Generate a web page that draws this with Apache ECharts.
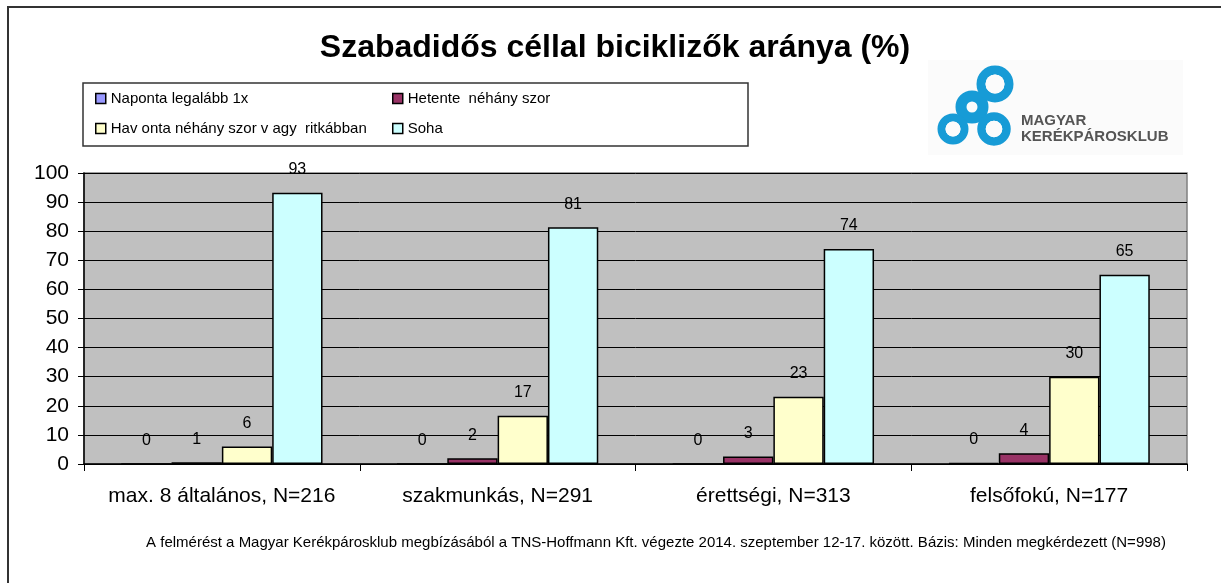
<!DOCTYPE HTML>
<html>
<head>
<meta charset="utf-8">
<title>Szabadidős céllal biciklizők aránya (%)</title>
<script type="text/javascript" src="https://cdn.jsdelivr.net/npm/echarts@6/dist/echarts.min.js"></script>
<style>
html, body { margin: 0; padding: 0; background: #fff; }
#container { width: 1221px; height: 583px; }
</style>
</head>
<body>
<div id="container"></div>
<script type="text/javascript">
// adatok
var categories = ['max. 8 általános, N=216', 'szakmunkás, N=291', 'érettségi, N=313', 'felsőfokú, N=177'];
var seriesNames = ['Naponta legalább 1x', 'Hetente  néhány szor', 'Hav onta néhány szor v agy  ritkábban', 'Soha'];
var naponta = [0, 0, 0, 0.4];
var hetente = [0.6, 2.0, 2.6, 3.7];
var havonta = [6.0, 16.6, 23.1, 30.0];
var soha = [93.2, 81.4, 73.9, 65.0];
var yTicks = [0, 10, 20, 30, 40, 50, 60, 70, 80, 90, 100];
var colors = ['#9999FF', '#993366', '#FFFFCC', '#CCFFFF'];

var font = '"Liberation Sans", Arial, sans-serif';
var blue = '#179BD6';

var myChart = echarts.init(document.getElementById('container'));

function makeSeries(name, data, color) {
	return {
		name: name,
		type: 'bar',
		data: data,
		barGap: '0%',
		barCategoryGap: '27%',
		itemStyle: {color: color, borderColor: '#000', borderWidth: 1.5},
		label: {
			show: true,
			position: 'top',
			distance: 15,
			fontSize: 16,
			fontFamily: font,
			color: '#000',
			formatter: function (p) { return Math.round(p.value); }
		}
	};
}

// a jelmagyarázat négy külön elem, így a két oszlop pontosan igazodik
function makeLegend(name, left, top) {
	return {
		data: [name],
		left: left,
		top: top,
		padding: 0,
		icon: 'rect',
		itemWidth: 10,
		itemHeight: 10,
		selectedMode: false,
		itemStyle: {borderColor: '#000', borderWidth: 1.5},
		textStyle: {fontSize: 15, fontFamily: font, color: '#000'}
	};
}

option = {
	animation: false,
	backgroundColor: '#fff',
	textStyle: {fontFamily: font},
	color: colors,
	grid: {
		left: 84,
		right: 34,
		top: 173,
		bottom: 119,
		show: true,
		backgroundColor: '#C0C0C0',
		borderColor: '#808080',
		borderWidth: 1.5
	},
	legend: [
		makeLegend(seriesNames[0], 95, 91),
		makeLegend(seriesNames[1], 392, 91),
		makeLegend(seriesNames[2], 95, 121),
		makeLegend(seriesNames[3], 392, 121)
	],
	xAxis: {
		type: 'category',
		data: categories,
		axisLine: {lineStyle: {color: '#000', width: 1.5}},
		axisTick: {show: true, length: 7, lineStyle: {color: '#000'}},
		axisLabel: {interval: 0, fontSize: 21, fontFamily: font, color: '#000', margin: 22}
	},
	yAxis: {
		type: 'value',
		min: yTicks[0],
		max: yTicks[yTicks.length - 1],
		interval: 10,
		axisLine: {show: true, lineStyle: {color: '#000', width: 1.5}},
		axisTick: {show: true, length: 6, lineStyle: {color: '#000'}},
		axisLabel: {fontSize: 21, fontFamily: font, color: '#000', margin: 15},
		splitLine: {lineStyle: {color: '#000', width: 1}}
	},
	series: [
		makeSeries(seriesNames[0], naponta, colors[0]),
		makeSeries(seriesNames[1], hetente, colors[1]),
		makeSeries(seriesNames[2], havonta, colors[2]),
		makeSeries(seriesNames[3], soha, colors[3])
	],
	graphic: [
		// külső keret
		{type: 'rect', shape: {x: 8, y: 7, width: 1240, height: 620}, style: {fill: null, stroke: '#333', lineWidth: 2}, silent: true},
		// jelmagyarázat kerete
		{type: 'rect', shape: {x: 83, y: 83, width: 665, height: 63}, style: {fill: null, stroke: '#333', lineWidth: 1.5}, z: -1, silent: true},
		// cím
		{type: 'text', x: 615, y: 48, style: {text: 'Szabadidős céllal biciklizők aránya (%)', fill: '#000', font: 'bold 32px ' + font, textAlign: 'center', textVerticalAlign: 'middle'}},
		// lábjegyzet
		{type: 'text', x: 656, y: 543, style: {text: 'A felmérést a Magyar Kerékpárosklub megbízásából a TNS-Hoffmann Kft. végezte 2014. szeptember 12-17. között. Bázis: Minden megkérdezett (N=998)', fill: '#000', font: '15px ' + font, textAlign: 'center', textVerticalAlign: 'middle'}},
		// logó
		{type: 'rect', shape: {x: 928, y: 60, width: 255, height: 95}, style: {fill: '#FBFBFB'}, z: -2, silent: true},
		{type: 'circle', shape: {cx: 972, cy: 107, r: 11}, style: {fill: null, stroke: blue, lineWidth: 11}},
		{type: 'circle', shape: {cx: 995, cy: 84, r: 14}, style: {fill: null, stroke: blue, lineWidth: 9}},
		{type: 'circle', shape: {cx: 953, cy: 129, r: 11.5}, style: {fill: null, stroke: blue, lineWidth: 8}},
		{type: 'circle', shape: {cx: 994, cy: 129, r: 12.5}, style: {fill: null, stroke: blue, lineWidth: 8.5}},
		{type: 'circle', shape: {cx: 995, cy: 84, r: 9.5}, style: {fill: '#FBFBFB'}},
		{type: 'circle', shape: {cx: 953, cy: 129, r: 7.5}, style: {fill: '#FBFBFB'}},
		{type: 'circle', shape: {cx: 994, cy: 129, r: 8.3}, style: {fill: '#FBFBFB'}},
		{type: 'text', x: 1021, y: 121, style: {text: 'MAGYAR', fill: '#555', font: 'bold 15px ' + font, textVerticalAlign: 'middle'}},
		{type: 'text', x: 1021, y: 137, style: {text: 'KERÉKPÁROSKLUB', fill: '#555', font: 'bold 15px ' + font, textVerticalAlign: 'middle'}}
	]
};
// beállítás és rajzolás
myChart.setOption(option);
</script>
</body>
</html>
